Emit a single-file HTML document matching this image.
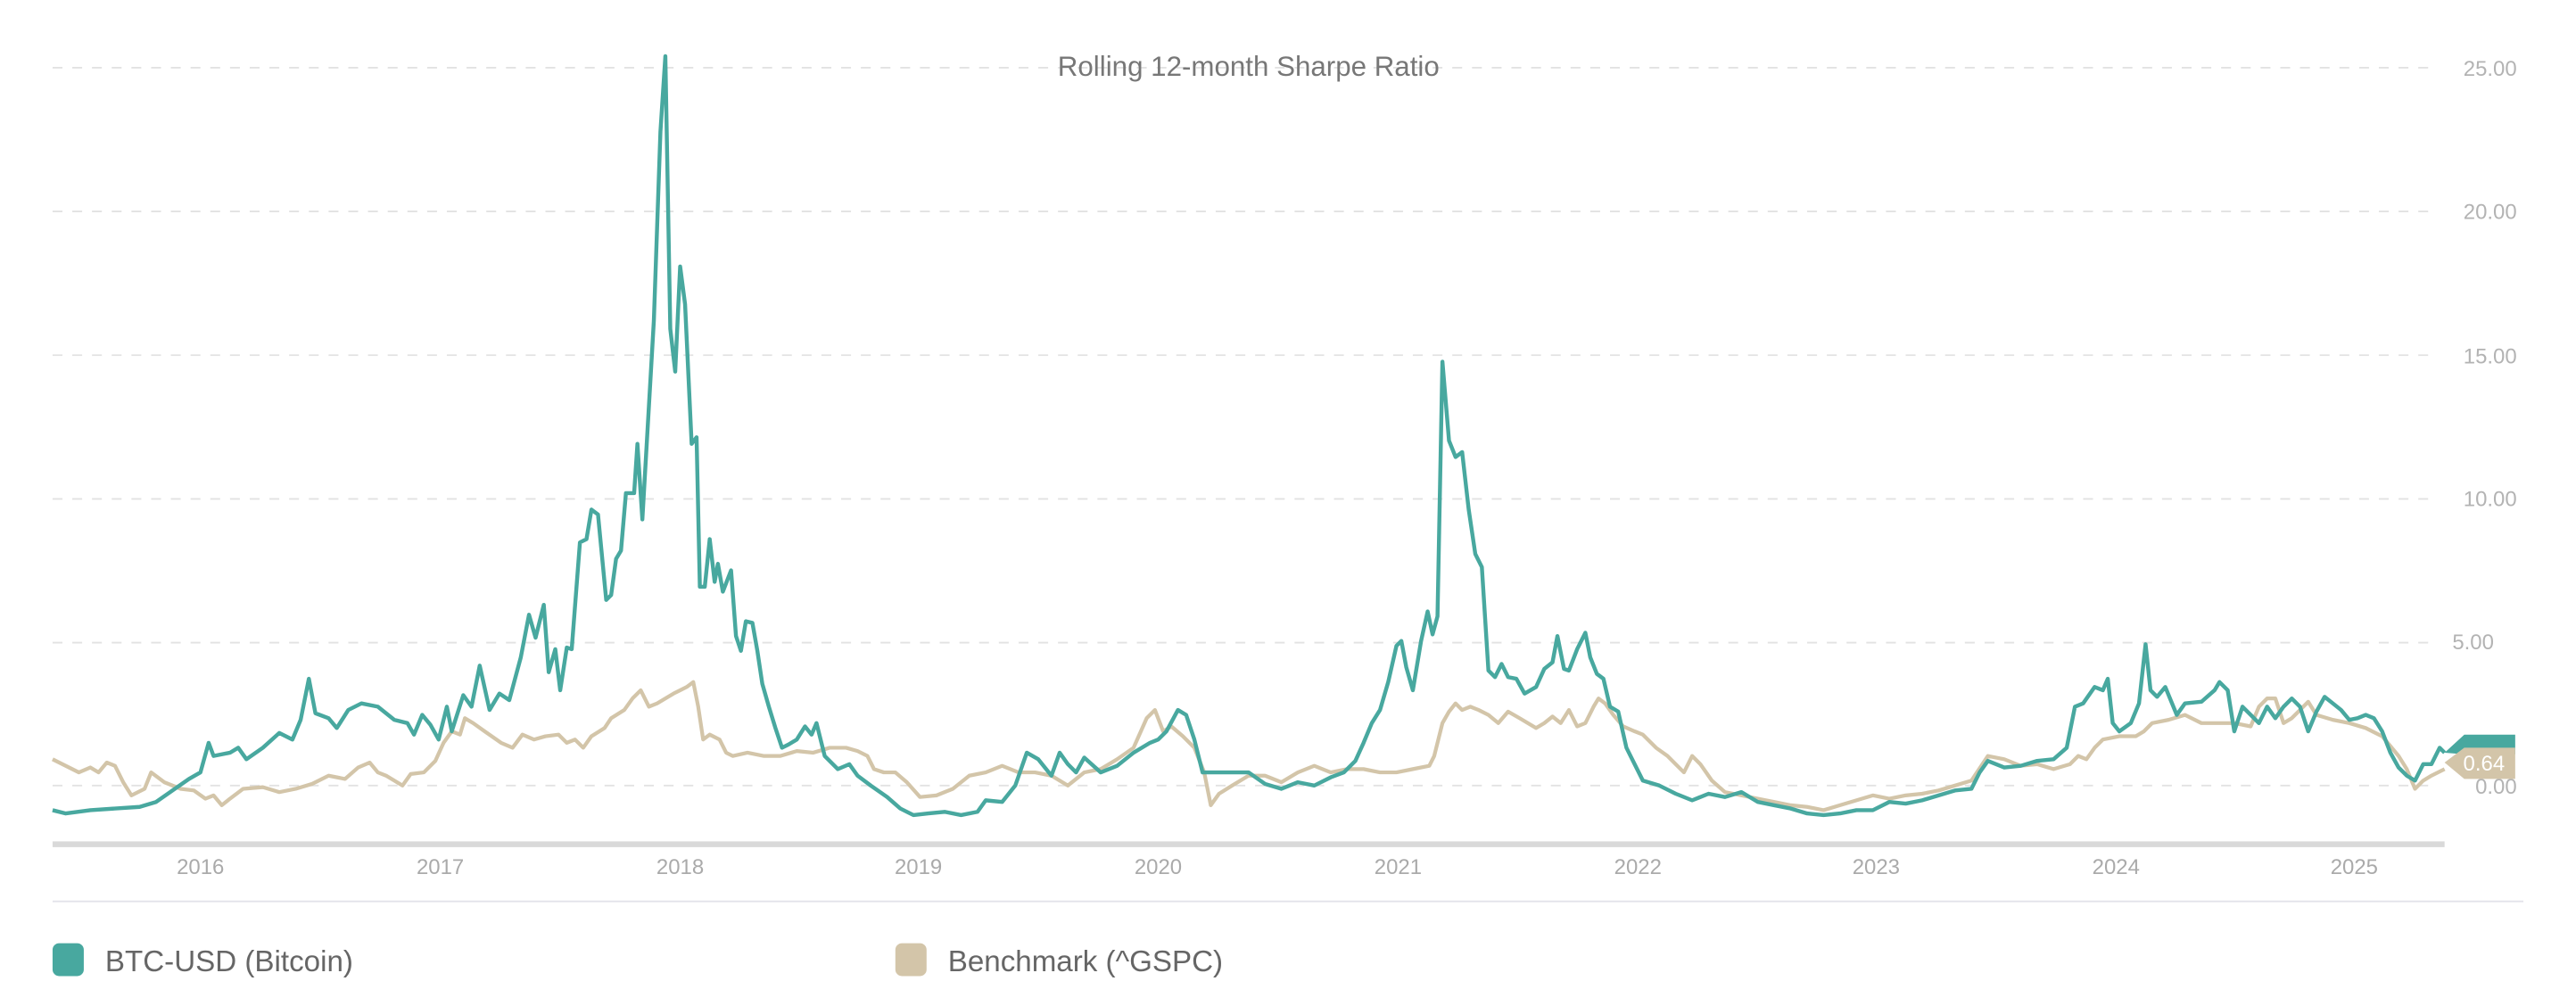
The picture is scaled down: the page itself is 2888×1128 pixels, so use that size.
<!DOCTYPE html>
<html><head><meta charset="utf-8"><style>html,body{margin:0;padding:0;background:#fff;}svg{display:block}</style></head>
<body>
<svg width="2888" height="1128" viewBox="0 0 1568 612" xmlns="http://www.w3.org/2000/svg" font-family="Liberation Sans, sans-serif">
<g stroke="#e2e2e2" stroke-width="1" stroke-dasharray="6,6">
<line x1="32" y1="41" x2="1480" y2="41"/><line x1="32" y1="128.5" x2="1480" y2="128.5"/><line x1="32" y1="216" x2="1480" y2="216"/><line x1="32" y1="303.5" x2="1480" y2="303.5"/><line x1="32" y1="391" x2="1480" y2="391"/><line x1="32" y1="478" x2="1480" y2="478"/>
</g>
<g fill="#b3b3b3" font-size="13" text-anchor="end">
<text x="1532" y="46">25.00</text><text x="1532" y="133">20.00</text><text x="1532" y="221">15.00</text><text x="1532" y="308">10.00</text><text x="1518" y="395">5.00</text><text x="1532" y="483">0.00</text>
</g>
<text x="760" y="46" text-anchor="middle" font-size="17" fill="#777">Rolling 12-month Sharpe Ratio</text>
<rect x="32" y="512" width="1456" height="3.5" fill="#d9d9d9"/>
<line x1="32" y1="548.5" x2="1536" y2="548.5" stroke="#e3e3ea" stroke-width="1"/>
<g fill="#aaa" font-size="13" text-anchor="middle">
<text x="122" y="532">2016</text><text x="268" y="532">2017</text><text x="414" y="532">2018</text><text x="559" y="532">2019</text><text x="705" y="532">2020</text><text x="851" y="532">2021</text><text x="997" y="532">2022</text><text x="1142" y="532">2023</text><text x="1288" y="532">2024</text><text x="1433" y="532">2025</text>
</g>
<polyline fill="none" stroke="#d3c5a9" stroke-width="2.3" stroke-linejoin="round" points="32,462 40,466 48,470 55,467 60,470 65,464 70,466 75,476 80,484 88,480 92,470 100,476 110,480 118,481 125,486 130,484 135,490 140,486 148,480 160,479 170,482 180,480 190,477 200,472 210,474 218,467 225,464 230,470 235,472 245,478 250,471 258,470 265,463 270,452 275,445 280,447 283,437 288,440 295,445 305,452 312,455 318,447 325,450 332,448 340,447 345,452 350,450 355,455 360,448 368,443 372,437 380,432 385,425 390,420 395,430 400,428 410,422 418,418 422,415 425,430 428,450 432,447 438,450 442,458 446,460 455,458 465,460 475,460 485,457 495,458 505,455 515,455 522,457 528,460 532,468 538,470 545,470 552,476 560,485 570,484 580,480 590,472 600,470 610,466 620,470 630,470 640,472 650,478 660,470 670,468 680,462 690,455 698,437 703,432 708,445 713,442 720,448 727,455 733,470 737,490 742,483 750,478 760,472 770,472 780,476 790,470 800,466 810,470 820,468 830,468 840,470 850,470 860,468 870,466 873,460 878,440 882,433 886,428 890,432 895,430 900,432 906,435 912,440 918,433 925,437 930,440 935,443 940,440 945,436 950,440 955,432 960,442 965,440 970,430 973,425 977,428 982,435 988,442 995,445 1000,447 1008,455 1015,460 1020,465 1025,470 1030,460 1035,465 1042,475 1050,482 1060,484 1070,486 1080,488 1090,490 1100,491 1110,493 1120,490 1130,487 1140,484 1150,486 1160,484 1170,483 1180,481 1190,478 1200,475 1210,460 1220,462 1230,466 1240,465 1250,468 1260,465 1265,460 1270,462 1275,455 1280,450 1290,448 1300,448 1305,445 1310,440 1320,438 1330,435 1340,440 1350,440 1360,440 1370,442 1375,430 1380,425 1385,425 1390,440 1395,437 1400,432 1405,427 1410,435 1420,438 1430,440 1440,443 1450,448 1460,460 1465,468 1470,480 1475,475 1480,472 1488,468"/>
<polyline fill="none" stroke="#48a89f" stroke-width="2.4" stroke-linejoin="round" points="32,493 40,495 55,493 70,492 85,491 95,488 105,481 115,474 122,470 127,452 130,460 140,458 145,455 150,462 160,455 170,446 178,450 183,438 188,413 192,434 200,437 205,443 212,432 220,428 230,430 240,438 248,440 252,447 257,435 262,441 267,450 272,430 275,445 282,423 287,430 292,405 298,432 304,422 310,426 317,400 322,374 326,388 331,368 334,409 338,395 341,420 345,394 348,395 353,330 357,328 360,310 364,313 369,365 372,362 375,340 378,335 381,300 386,300 388,270 391,316 398,195 402,80 405,34 408,200 411,226 414,162 417,185 421,270 424,266 426,357 429,357 432,328 435,354 437,343 440,360 445,347 448,387 451,396 454,378 458,379 461,396 464,416 468,430 472,443 476,455 480,453 485,450 490,442 494,447 497,440 502,460 510,468 517,465 522,472 530,478 540,485 548,492 556,496 565,495 575,494 585,496 595,494 600,487 610,488 618,478 625,458 632,462 640,472 645,458 650,465 655,470 660,461 670,470 680,466 690,458 700,452 705,450 710,445 717,432 722,435 727,450 732,470 740,470 750,470 760,470 770,477 780,480 790,476 800,478 810,473 818,470 825,463 830,452 835,440 840,432 845,415 850,393 853,390 856,406 860,420 865,390 869,372 872,386 875,375 878,220 882,268 886,278 890,275 894,310 898,337 902,345 906,408 910,412 914,404 918,412 923,413 928,422 935,418 940,407 945,403 948,387 952,407 955,408 960,395 965,385 968,400 972,410 976,413 980,430 985,433 990,455 995,465 1000,475 1010,478 1020,483 1030,487 1040,483 1050,485 1060,482 1070,488 1080,490 1090,492 1100,495 1110,496 1120,495 1130,493 1140,493 1150,488 1160,489 1170,487 1180,484 1190,481 1200,480 1205,470 1210,463 1220,467 1230,466 1240,463 1250,462 1258,455 1263,430 1268,428 1275,418 1280,420 1283,413 1286,440 1290,445 1297,440 1302,428 1306,392 1309,420 1313,424 1318,418 1325,435 1330,428 1340,427 1348,420 1351,415 1356,420 1360,445 1365,430 1370,435 1375,440 1380,430 1385,437 1390,430 1395,425 1400,430 1405,445 1410,433 1415,424 1420,428 1425,432 1430,438 1435,437 1440,435 1445,437 1450,445 1455,458 1460,467 1465,472 1470,475 1475,465 1480,465 1485,455 1488,458"/>
<path d="M1488,458 L1500,447 L1531,447 L1531,459 L1500,459 Z" fill="#48a89f"/>
<path d="M1488,464 L1500,455 L1531,455 L1531,474 L1500,474 Z" fill="#d3c5a9"/>
<text x="1512" y="469" text-anchor="middle" font-size="13" fill="#fff">0.64</text>
<rect x="32" y="574" width="19" height="20" rx="4" fill="#48a89f"/>
<text x="64" y="591" font-size="18" fill="#666">BTC-USD (Bitcoin)</text>
<rect x="545" y="574" width="19" height="20" rx="4" fill="#d3c5a9"/>
<text x="577" y="591" font-size="18" fill="#666">Benchmark (^GSPC)</text>
</svg>
</body></html>
